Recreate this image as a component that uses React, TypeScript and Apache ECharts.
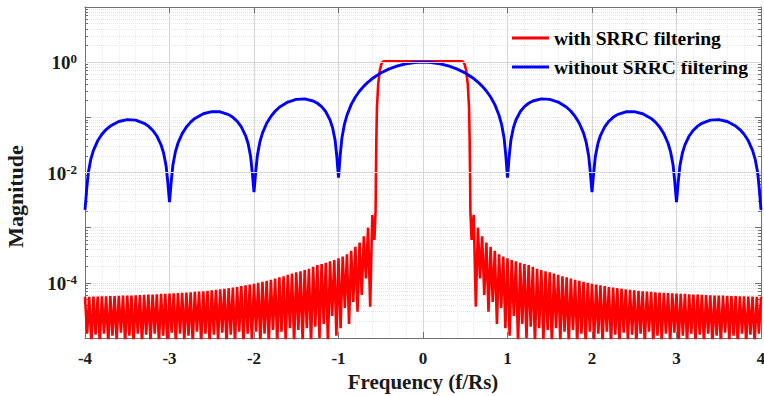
import React, { useEffect, useRef } from 'react';
import * as echarts from 'echarts';

const FONT = "'Liberation Serif', 'Times New Roman', serif";

// ---- Data (positive-frequency half; both spectra are symmetric about f = 0) ----

// Blue: without SRRC filtering
const blueFreq = [
  0, 0.1, 0.2, 0.3, 0.4, 0.5, 0.6, 0.65, 0.7, 0.75, 0.8, 0.85, 0.9, 0.93, 0.96, 0.98, 1,
  1.02, 1.04, 1.07, 1.1, 1.15, 1.2, 1.25, 1.3, 1.4, 1.5, 1.6, 1.7, 1.75, 1.8, 1.85, 1.9, 1.93, 1.96, 1.98, 2,
  2.02, 2.04, 2.07, 2.1, 2.15, 2.2, 2.25, 2.3, 2.4, 2.5, 2.6, 2.7, 2.75, 2.8, 2.85, 2.9, 2.93, 2.96, 2.98, 3,
  3.02, 3.04, 3.07, 3.1, 3.15, 3.2, 3.25, 3.3, 3.4, 3.5, 3.6, 3.7, 3.75, 3.8, 3.85, 3.9, 3.93, 3.96, 3.98, 4,
];
const blueMag = [
  1.0, 0.984, 0.935, 0.858, 0.757, 0.637, 0.505, 0.436, 0.368, 0.3, 0.234, 0.17, 0.109, 0.0747, 0.0416, 0.0204, 0.0081,
  0.0196, 0.0384, 0.0649, 0.0894, 0.126, 0.156, 0.18, 0.198, 0.216, 0.212, 0.189, 0.152, 0.129, 0.104, 0.0781, 0.0518, 0.036, 0.0204, 0.0101, 0.0044,
  0.0099, 0.0196, 0.0335, 0.0468, 0.0672, 0.085, 0.1, 0.112, 0.126, 0.127, 0.116, 0.0954, 0.0818, 0.0668, 0.0507, 0.0339, 0.0237, 0.0135, 0.0067, 0.0029,
  0.0066, 0.0131, 0.0226, 0.0317, 0.0459, 0.0585, 0.0693, 0.078, 0.089, 0.091, 0.0841, 0.0696, 0.06, 0.0492, 0.0375, 0.0252, 0.0177, 0.0101, 0.005, 0.0021,
];

// Red: with SRRC filtering — passband and roll-off edge
const redPassFreq = [0, 0.2, 0.4, 0.45, 0.47, 0.49, 0.51, 0.53, 0.545, 0.552, 0.557, 0.561];
const redPassMag = [1.04, 1.04, 1.04, 1.04, 1.03, 0.95, 0.72, 0.4, 0.15, 0.04, 0.009, 0.002];

// Red stopband ripple: troughs at 0.575, 0.625, ..., 3.975 and peaks at 0.600, 0.650, ..., 4.000
const rippleTroughStart = 0.575;
const ripplePeakStart = 0.6;
const rippleStep = 0.05;
const redTroughMag = [
  6e-4, 3.7e-5, 1.2e-4, 6e-5, 3e-5, 4.5e-5, 1.8e-5, 3.5e-5, 1.5e-5, 1.1e-5,
  2.5e-5, 8e-6, 1.8e-5, 1e-5, 1.6e-5, 8e-6, 1.5e-5, 9e-6, 1.4e-5, 8e-6,
  1.5e-5, 9e-6, 1.3e-5, 8e-6, 1.4e-5, 8e-6, 1.2e-5, 8e-6, 1.3e-5, 9e-6,
  1.2e-5, 8e-6, 1.3e-5, 8e-6, 1.15e-5, 8e-6, 1.25e-5, 9e-6, 1.15e-5, 8e-6,
  1.2e-5, 8e-6, 1.3e-5, 8e-6, 1.1e-5, 9e-6, 1.2e-5, 8e-6, 1.25e-5, 8e-6,
  1.1e-5, 8e-6, 1.2e-5, 9e-6, 1.15e-5, 8e-6, 1.2e-5, 8e-6, 1.1e-5, 8e-6,
  1.25e-5, 9e-6, 1.1e-5, 8e-6, 1.2e-5, 8e-6, 1.15e-5, 8e-6, 1.2e-5,
];
const redPeakMag = [
  1.7e-3, 1.0e-3, 7.0e-4, 5.4e-4, 4.5e-4, 3.8e-4, 3.3e-4, 3.0e-4, 2.8e-4, 2.6e-4,
  2.45e-4, 2.3e-4, 2.2e-4, 2.1e-4, 1.95e-4, 1.8e-4, 1.7e-4, 1.62e-4, 1.55e-4, 1.48e-4,
  1.4e-4, 1.32e-4, 1.26e-4, 1.2e-4, 1.14e-4, 1.09e-4, 1.04e-4, 1.0e-4, 9.6e-5, 9.3e-5,
  9.0e-5, 8.7e-5, 8.4e-5, 8.2e-5, 8.0e-5, 7.8e-5, 7.6e-5, 7.45e-5, 7.3e-5, 7.2e-5,
  7.05e-5, 6.95e-5, 6.85e-5, 6.75e-5, 6.65e-5, 6.6e-5, 6.5e-5, 6.45e-5, 6.4e-5, 6.35e-5,
  6.3e-5, 6.2e-5, 6.15e-5, 6.1e-5, 6.05e-5, 6.0e-5, 5.95e-5, 5.9e-5, 5.9e-5, 5.85e-5,
  5.8e-5, 5.75e-5, 5.75e-5, 5.7e-5, 5.7e-5, 5.65e-5, 5.65e-5, 5.6e-5, 5.6e-5,
];

const seriesNames = ['with SRRC filtering', 'without SRRC filtering'];
const seriesColors = ['#ff0000', '#0000ff'];
const majorGridExponents = [-4, -2, 0];

// ---- helpers ----
function mirrored(freq: number[], mag: number[]): number[][] {
  const pos = freq.map((f, i) => [f, mag[i]]);
  const neg = pos.filter((p) => p[0] > 0).map((p) => [-p[0], p[1]]).reverse();
  return [...neg, ...pos];
}

function buildRed(): number[][] {
  const f: number[] = [...redPassFreq];
  const m: number[] = [...redPassMag];
  for (let i = 0; i < redPeakMag.length; i++) {
    f.push(+(rippleTroughStart + rippleStep * i).toFixed(4));
    m.push(redTroughMag[i]);
    f.push(+(ripplePeakStart + rippleStep * i).toFixed(4));
    m.push(redPeakMag[i]);
  }
  return mirrored(f, m);
}

export default function App() {
  const ref = useRef<HTMLDivElement>(null);

  useEffect(() => {
    if (!ref.current) return;
    const chart = echarts.init(ref.current, undefined, { renderer: 'svg' });
    const axisColor = '#6f6f6f';
    const labelColor = '#1a1a1a';

    const yCommon: any = {
      type: 'log',
      logBase: 10,
      min: 1e-5,
      max: 10,
      axisLine: { show: true, onZero: false, lineStyle: { color: axisColor, width: 1 } },
      axisTick: { show: true, inside: true, length: 6, lineStyle: { color: axisColor } },
      minorTick: { show: true, splitNumber: 9, length: 3, lineStyle: { color: axisColor } },
    };
    const xCommon: any = {
      type: 'value',
      min: -4,
      max: 4,
      interval: 1,
      axisLine: { show: true, onZero: false, lineStyle: { color: axisColor, width: 1 } },
      axisTick: { show: true, inside: true, length: 6, lineStyle: { color: axisColor } },
      minorTick: { show: false, splitNumber: 5 },
    };

    chart.setOption({
      animation: false,
      backgroundColor: '#ffffff',
      grid: { left: 85, right: 3, top: 7, bottom: 58, containLabel: false, outerBoundsMode: 'none' },
      legend: {
        data: seriesNames,
        orient: 'vertical',
        left: 512,
        top: 28,
        padding: 0,
        itemGap: 9,
        itemWidth: 37,
        itemHeight: 3,
        icon: 'rect',
        textStyle: { fontFamily: FONT, fontWeight: 'bold', fontSize: 19.5, color: '#000' },
      },
      xAxis: [
        {
          ...xCommon,
          position: 'bottom',
          name: 'Frequency (f/Rs)',
          nameLocation: 'middle',
          nameGap: 33,
          nameTextStyle: { fontFamily: FONT, fontWeight: 'bold', fontSize: 21, color: labelColor },
          axisLabel: { fontFamily: FONT, fontWeight: 'bold', fontSize: 17, color: labelColor, margin: 12 },
          splitLine: { show: true, lineStyle: { color: '#d6d6d6', width: 1 } },
          minorSplitLine: { show: true, lineStyle: { color: '#ebebeb', width: 1, type: 'dotted' } },
        },
        {
          ...xCommon,
          position: 'top',
          axisLabel: { show: false },
          splitLine: { show: false },
        },
      ],
      yAxis: [
        {
          ...yCommon,
          position: 'left',
          name: 'Magnitude',
          nameLocation: 'middle',
          nameGap: 59,
          nameTextStyle: {
            fontFamily: FONT, fontWeight: 'bold', fontSize: 22, color: labelColor, padding: [0, 48, 0, 0],
          },
          axisLabel: {
            margin: 8,
            formatter: (v: number) => {
              const e = Math.round(Math.log10(v));
              if (e % 2 !== 0) return '';
              return `{b|10}{s|${e}}`;
            },
            rich: {
              b: { fontFamily: FONT, fontWeight: 'bold', fontSize: 19, color: labelColor, verticalAlign: 'bottom', lineHeight: 20 },
              s: { fontFamily: FONT, fontWeight: 'bold', fontSize: 13, color: labelColor, verticalAlign: 'top', lineHeight: 13, padding: [0, 0, 12, 0] },
            },
          },
          splitLine: { show: true, lineStyle: { color: '#dedede', width: 1, type: 'dotted' } },
          minorSplitLine: { show: true, lineStyle: { color: '#e4e4e4', width: 1, type: 'dotted' } },
        },
        {
          ...yCommon,
          position: 'right',
          axisLabel: { show: false },
          splitLine: { show: false },
        },
      ],
      series: [
        {
          name: '__grid',
          type: 'line',
          data: [],
          z: 1,
          silent: true,
          markLine: {
            silent: true,
            symbol: 'none',
            label: { show: false },
            lineStyle: { color: '#d6d6d6', type: 'solid', width: 1 },
            data: majorGridExponents.map((e) => ({ yAxis: Math.pow(10, e) })),
          },
        },
        {
          name: seriesNames[0],
          type: 'line',
          data: buildRed(),
          showSymbol: false,
          symbol: 'none',
          clip: true,
          z: 3,
          color: seriesColors[0],
          lineStyle: { color: seriesColors[0], width: 2.6 },
        },
        {
          name: seriesNames[1],
          type: 'line',
          data: mirrored(blueFreq, blueMag),
          showSymbol: false,
          symbol: 'none',
          clip: true,
          z: 4,
          color: seriesColors[1],
          lineStyle: { color: seriesColors[1], width: 2.9 },
        },
      ],
    });

    return () => chart.dispose();
  }, []);

  return (
    <div
      ref={ref}
      style={{ position: 'fixed', left: 0, top: 0, width: 764, height: 396, background: '#fff' }}
    />
  );
}
